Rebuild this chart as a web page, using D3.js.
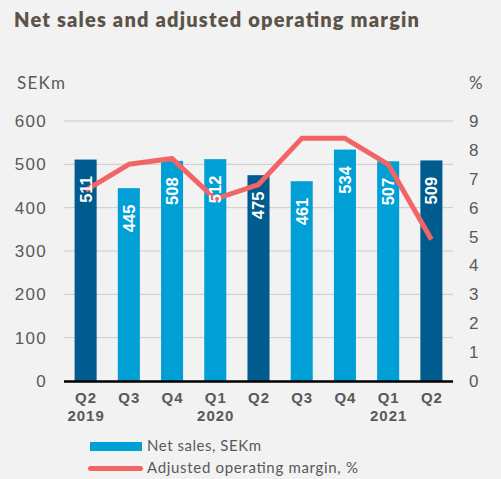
<!DOCTYPE html>
<html>
<head>
<meta charset="utf-8">
<script src="https://cdn.jsdelivr.net/npm/d3@7"></script>
<style>
  body { margin: 0; background: #f2f2f2; }
  svg { display: block; }
</style>
</head>
<body>
<svg id="chart" width="501" height="479"></svg>
<script>
// data
var quarters = ["Q2", "Q3", "Q4", "Q1", "Q2", "Q3", "Q4", "Q1", "Q2"];
var years = ["2019", "", "", "2020", "", "", "", "2021", ""];
var netSales = [511, 445, 508, 512, 475, 461, 534, 507, 509];
var margin = [6.6, 7.5, 7.7, 6.3, 6.8, 8.4, 8.4, 7.5, 4.9];
var leftTicks = [0, 100, 200, 300, 400, 500, 600];
var rightTicks = [0, 1, 2, 3, 4, 5, 6, 7, 8, 9];

var svg = d3.select("#chart");
var geo = "Lato, 'Open Sans', sans-serif";
var arial = "'Liberation Sans', Arial, sans-serif";

var x = d3.scaleBand()
    .domain(d3.range(quarters.length))
    .range([64, 453])
    .paddingInner(0.49)
    .paddingOuter(0.245);

var y = d3.scaleLinear().domain([0, 600]).range([381, 121]);
var y2 = d3.scaleLinear().domain([0, 9]).range([381, 121]);

// title
svg.append("text")
    .attr("x", 14).attr("y", 27)
    .attr("font-family", geo).attr("font-weight", 800)
    .attr("font-size", 20)
    .attr("textLength", 405).attr("lengthAdjust", "spacing")
    .attr("fill", "#5c5349")
    .text("Net sales and adjusted operating margin");

// axis titles
svg.append("text")
    .attr("x", 17).attr("y", 89)
    .attr("font-family", geo).attr("font-size", 17)
    .attr("textLength", 48).attr("lengthAdjust", "spacing")
    .attr("fill", "#595959")
    .text("SEKm");
svg.append("text")
    .attr("x", 469).attr("y", 89)
    .attr("font-family", geo).attr("font-size", 17)
    .attr("fill", "#595959")
    .text("%");

// gridlines
svg.append("g")
  .selectAll("line")
  .data(leftTicks.slice(1))
  .enter().append("line")
    .attr("x1", 64).attr("x2", 453)
    .attr("y1", function(d) { return y(d); })
    .attr("y2", function(d) { return y(d); })
    .attr("stroke", "#cbcbcb").attr("stroke-width", 1);

// left ticks
svg.append("g")
  .selectAll("text")
  .data(leftTicks)
  .enter().append("text")
    .attr("x", 47)
    .attr("y", function(d) { return y(d); })
    .attr("dy", "0.35em")
    .attr("text-anchor", "end")
    .attr("font-family", arial).attr("font-size", 17)
    .attr("letter-spacing", 1.3)
    .attr("fill", "#595959")
    .text(function(d) { return d; });

// right ticks
svg.append("g")
  .selectAll("text")
  .data(rightTicks)
  .enter().append("text")
    .attr("x", 469)
    .attr("y", function(d) { return y2(d); })
    .attr("dy", "0.35em")
    .attr("font-family", arial).attr("font-size", 17)
    .attr("fill", "#595959")
    .text(function(d) { return d; });

// bars
svg.append("g")
  .selectAll("rect")
  .data(netSales)
  .enter().append("rect")
    .attr("x", function(d, i) { return x(i); })
    .attr("y", function(d) { return y(d); })
    .attr("width", x.bandwidth())
    .attr("height", function(d) { return y(0) - y(d); })
    .attr("fill", function(d, i) { return quarters[i] == "Q2" ? "#005b8f" : "#00a0d6"; });

// baseline
svg.append("line")
    .attr("x1", 64).attr("x2", 453)
    .attr("y1", y(0) + 0.5).attr("y2", y(0) + 0.5)
    .attr("stroke", "#000").attr("stroke-width", 2.5);

// margin line
var line = d3.line()
    .x(function(d, i) { return x(i) + x.bandwidth() / 2; })
    .y(function(d) { return y2(d); });

svg.append("path")
    .datum(margin)
    .attr("d", line)
    .attr("fill", "none")
    .attr("stroke", "#f26466")
    .attr("stroke-width", 5)
    .attr("stroke-linejoin", "round");

// bar labels
svg.append("g")
  .selectAll("text")
  .data(netSales)
  .enter().append("text")
    .attr("transform", function(d, i) {
      return "translate(" + (x(i) + x.bandwidth() / 2) + "," + (y(d) + 16.5) + ") rotate(-90)";
    })
    .attr("dy", "0.36em")
    .attr("text-anchor", "end")
    .attr("font-family", arial).attr("font-weight", 700)
    .attr("font-size", 16.5)
    .attr("fill", "#fff")
    .text(function(d) { return d; });

// x labels
var xl = svg.append("g")
  .selectAll("g")
  .data(quarters)
  .enter().append("g");

xl.append("text")
    .attr("x", function(d, i) { return x(i) + x.bandwidth() / 2 + 0.5; })
    .attr("y", 402.5)
    .attr("text-anchor", "middle")
    .attr("font-family", arial).attr("font-weight", 700)
    .attr("font-size", 15).attr("letter-spacing", 1)
    .attr("fill", "#595959")
    .text(function(d) { return d; });

xl.append("text")
    .attr("x", function(d, i) { return x(i) + x.bandwidth() / 2 + 0.5; })
    .attr("y", 420.5)
    .attr("text-anchor", "middle")
    .attr("font-family", arial).attr("font-weight", 700)
    .attr("font-size", 15).attr("letter-spacing", 1)
    .attr("fill", "#595959")
    .text(function(d, i) { return years[i]; });

// legend
svg.append("rect")
    .attr("x", 90).attr("y", 442)
    .attr("width", 52).attr("height", 9)
    .attr("fill", "#00a0d6");
svg.append("text")
    .attr("x", 147).attr("y", 451)
    .attr("font-family", geo).attr("font-size", 15)
    .attr("textLength", 114).attr("lengthAdjust", "spacing")
    .attr("fill", "#595959")
    .text("Net sales, SEKm");

svg.append("line")
    .attr("x1", 90.5).attr("x2", 140.5)
    .attr("y1", 468.5).attr("y2", 468.5)
    .attr("stroke", "#f26466").attr("stroke-width", 5)
    .attr("stroke-linecap", "round");
svg.append("text")
    .attr("x", 147).attr("y", 473)
    .attr("font-family", geo).attr("font-size", 15)
    .attr("textLength", 211).attr("lengthAdjust", "spacing")
    .attr("fill", "#595959")
    .text("Adjusted operating margin, %");
</script>
</body>
</html>
